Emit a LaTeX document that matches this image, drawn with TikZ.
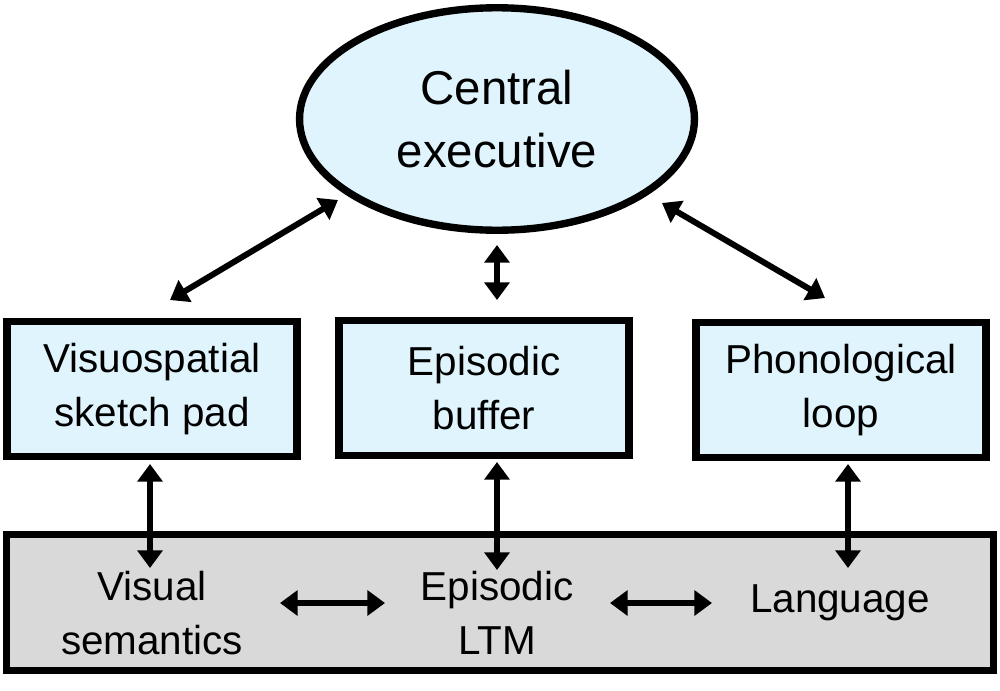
\documentclass[tikz,border=0pt]{standalone}
\usepackage{fontspec}
\setmainfont{Liberation Sans}
\usetikzlibrary{shapes.geometric,arrows.meta}
\definecolor{lb}{HTML}{DFF4FC}
\definecolor{gr}{HTML}{D9D9D9}
\begin{document}
\begin{tikzpicture}[x=0.02cm,y=-0.02cm,
  box/.style={draw,line width=4.2pt,fill=lb,minimum width=5.8cm,minimum height=2.7cm,align=center,font=\fontsize{23}{31}\selectfont},
  lbl/.style={align=center,font=\fontsize{23}{31}\selectfont},
  arr/.style={line width=3.4pt,{Triangle[length=10pt,width=14pt]}-{Triangle[length=10pt,width=14pt]}}]
\useasboundingbox (0,0) rectangle (1000,690);
\node[draw,ellipse,line width=4.2pt,fill=lb,minimum width=7.9cm,minimum height=4.45cm,align=center,font=\fontsize{27}{36}\selectfont] (ce) at (497,119) {Central\\executive};
\node[box] (vs) at (152,389) {Visuospatial\\sketch pad};
\node[box] (eb) at (484,388) {Episodic\\buffer};
\node[box] (pl) at (841,390) {Phonological\\loop};
\node[draw,line width=4.2pt,fill=gr,minimum width=19.75cm,minimum height=2.72cm] (ltm) at (500,602.5) {};
\node[lbl] (vsem) at (152,613) {Visual\\semantics};
\node[lbl] (eltm) at (497,613) {Episodic\\LTM};
\node[lbl] (lang) at (840,603) {Language};
\coordinate (a1) at (170,300); \coordinate (a2) at (338,200);
\coordinate (b1) at (497,245); \coordinate (b2) at (497,300);
\coordinate (c1) at (662,203); \coordinate (c2) at (825,298);
\coordinate (d1) at (150,464); \coordinate (d2) at (150,568);
\coordinate (e1) at (497,462); \coordinate (e2) at (497,570);
\coordinate (f1) at (848,464); \coordinate (f2) at (848,568);
\coordinate (g1) at (280,603); \coordinate (g2) at (385,603);
\coordinate (h1) at (610,603); \coordinate (h2) at (712,603);
\foreach \p/\q in {a1/a2,b1/b2,c1/c2,d1/d2,e1/e2,f1/f2,g1/g2,h1/h2}
  \draw[arr] (\p) -- (\q);
\end{tikzpicture}
\end{document}
